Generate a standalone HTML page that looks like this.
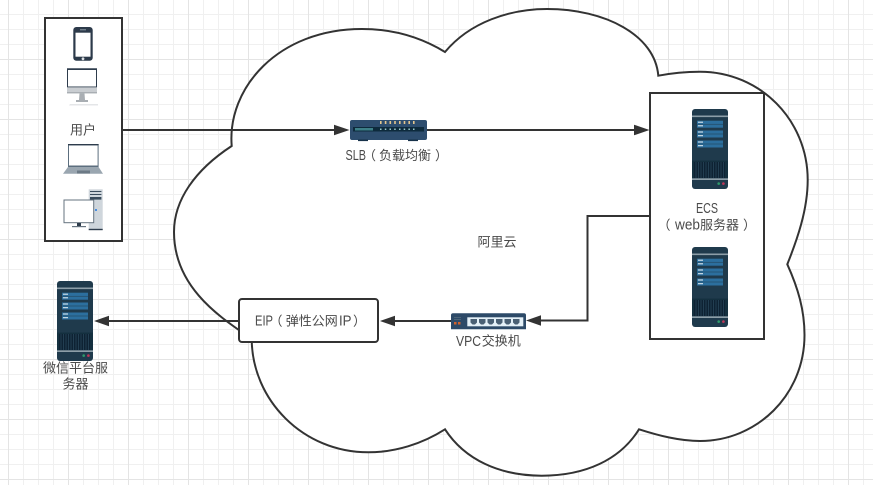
<!DOCTYPE html>
<html><head><meta charset="utf-8">
<style>
html,body{margin:0;padding:0;background:#fff;width:873px;height:485px;overflow:hidden}
svg{display:block}
text{font-family:"Liberation Sans","Noto Sans CJK SC",sans-serif;font-size:13px;fill:#4a4a4a}
text.m{text-anchor:middle}
text.l{font-size:14.5px}
</style></head><body>
<svg width="873" height="485" viewBox="0 0 873 485" xmlns="http://www.w3.org/2000/svg">
<defs>
<pattern id="g" width="60" height="60" patternUnits="userSpaceOnUse" x="8" y="-1">
<path d="M15.5 0V60M30.5 0V60M45.5 0V60M0 15.5H60M0 30.5H60M0 45.5H60" stroke="#f0f0f0" stroke-width="1" fill="none"/>
<path d="M.5 0V60M0 .5H60" stroke="#e4e4e4" stroke-width="1" fill="none"/>
</pattern>
<symbol id="srv" width="36" height="80" viewBox="0 0 36 80">
<rect width="36" height="80" rx="3" fill="#1f3a4c"/>
<rect y="6.5" width="36" height="1.6" fill="#8d9ea8"/>
<rect x="5" y="11.7" width="26" height="7" fill="#2c6f9e"/>
<rect x="5" y="21.5" width="26" height="7" fill="#2c6f9e"/>
<rect x="5" y="31.5" width="26" height="7" fill="#2c6f9e"/>
<g fill="#e6eff4"><rect x="6" y="12.7" width="5" height="1"/><rect x="6" y="16.3" width="5" height="1"/><rect x="6" y="22.5" width="5" height="1"/><rect x="6" y="26.2" width="5" height="1"/><rect x="6" y="32.5" width="5" height="1"/><rect x="6" y="36.2" width="5" height="1"/></g>
<g stroke="#1f3a4c" stroke-width=".5"><path d="M5 15.2H31M5 25H31M5 35H31"/></g>
<rect y="51.5" width="36" height="18" fill="#14303f"/>
<rect x="2" y="53" width="31" height="16" fill="#0e2233"/>
<path d="M4 53V69M6.5 53V69M9 53V69M11.5 53V69M14 53V69M16.5 53V69M19 53V69M21.5 53V69M24 53V69M26.5 53V69M29 53V69M31.5 53V69" stroke="#2c4a5e" stroke-width=".7"/>
<rect y="69.3" width="36" height="1.7" fill="#8d9ea8"/>
<circle cx="26.7" cy="74.6" r="1.3" fill="#2e9a6b"/>
<circle cx="31.4" cy="74.6" r="1.3" fill="#c03558"/>
</symbol>
</defs>
<rect width="873" height="485" fill="url(#g)"/>

<!-- cloud -->
<path d="M231.7 146C227 88 278 29 362 29C395 29 422 38 445 52C470 22 510 9 547 9C605 9 655 35 658.3 75.7C672 73 686 71.7 700 71.7C760 71.7 807.7 120 807.7 180C807.7 210 797 240 787.3 264.3C798 288 804.5 310 804.5 335C804.5 395 757 441 700 441C680 441 660 436 639 429.3C620 460 585 475.7 541.7 475.7C500 475.7 465 460 445 429.3C422 444 395 452.3 368.3 452.3C303 452.3 252 400 251.7 339C225 320 174 290 174 232C174 200 195 170 231.7 146Z" fill="#fff" stroke="#333" stroke-width="2"/>

<!-- boxes -->
<rect x="45" y="18" width="77" height="223" fill="#fff" stroke="#333" stroke-width="2"/>
<rect x="650" y="93" width="114" height="246" fill="#fff" stroke="#333" stroke-width="2"/>

<!-- connectors -->
<g fill="none" stroke="#333" stroke-width="2">
<path d="M122 130H336"/>
<path d="M427 130H636"/>
<path d="M650 216H587.5V320.5H540"/>
<path d="M451 321H394"/>
<path d="M239 321H108"/>
</g>
<g fill="#333">
<path d="M349.5 130L334 124.7V135.3Z"/>
<path d="M649.5 130L634 124.7V135.3Z"/>
<path d="M526 320.5L541 315.2V325.8Z"/>
<path d="M380 321L395 315.7V326.3Z"/>
<path d="M94 321L109 315.7V326.3Z"/>
</g>
<rect x="239" y="299" width="139" height="43" rx="3" fill="#fff" stroke="#333" stroke-width="2"/>

<!-- servers -->
<use href="#srv" x="692" y="109" width="36" height="80"/>
<use href="#srv" x="692" y="247" width="36" height="80"/>
<use href="#srv" x="57" y="281" width="36" height="80"/>

<!-- SLB -->
<rect x="350" y="120" width="77" height="20" rx="2" fill="#2d4d6e"/>
<rect x="358" y="139.5" width="10" height="1.6" fill="#17324a"/>
<rect x="408" y="139.5" width="10" height="1.6" fill="#17324a"/>
<rect x="353" y="127" width="71" height="4.5" fill="#0d2a3c"/>
<rect x="355" y="128" width="18" height="2.5" fill="#3d8088"/>
<g fill="#e3c58e"><rect x="380" y="121" width="1.6" height="3"/><rect x="384.8" y="121" width="1.6" height="3"/><rect x="389.5" y="121" width="1.6" height="3"/><rect x="394.2" y="121" width="1.6" height="3"/><rect x="399" y="121" width="1.6" height="3"/><rect x="403.7" y="121" width="1.6" height="3"/><rect x="408.4" y="121" width="1.6" height="3"/><rect x="413" y="121" width="1.6" height="3"/></g>
<g fill="#9cc"><rect x="380" y="128.5" width="1.5" height="1.5"/><rect x="384.8" y="128.5" width="1.5" height="1.5"/><rect x="389.5" y="128.5" width="1.5" height="1.5"/><rect x="394.2" y="128.5" width="1.5" height="1.5"/><rect x="399" y="128.5" width="1.5" height="1.5"/><rect x="403.7" y="128.5" width="1.5" height="1.5"/><rect x="408.4" y="128.5" width="1.5" height="1.5"/><rect x="413" y="128.5" width="1.5" height="1.5"/></g>

<!-- VPC switch -->
<path d="M453 313.3H524Q526 313.3 526 315.3V329.3H451V315.3Q451 313.3 453 313.3Z" fill="#2d4a68"/>
<rect x="467.3" y="317.3" width="56" height="9" fill="#e4f0f7"/>
<g fill="#4a6074"><path d="M470.5 319H477V322.5L475 324.5H472.5L470.5 322.5Z"/><path d="M479 319H485.5V322.5L483.5 324.5H481L479 322.5Z"/><path d="M487.5 319H494V322.5L492 324.5H489.5L487.5 322.5Z"/><path d="M496 319H502.5V322.5L500.5 324.5H498L496 322.5Z"/><path d="M504.5 319H511V322.5L509 324.5H506.5L504.5 322.5Z"/><path d="M513 319H519.5V322.5L517.5 324.5H515L513 322.5Z"/></g>
<rect x="454" y="317" width="7" height="1" fill="#4c6478"/><rect x="454" y="319" width="7" height="1" fill="#4c6478"/>
<rect x="454" y="322" width="2.5" height="2.5" fill="#d0622e"/><rect x="458" y="322" width="2.5" height="2.5" fill="#d0622e"/>

<!-- phone -->
<rect x="73.3" y="27" width="19.4" height="33.7" rx="3" fill="#2c3a4a"/>
<rect x="75.5" y="32.7" width="15" height="24" fill="#fff"/>
<circle cx="83" cy="58.8" r="1.4" fill="#dfe3e6"/>
<rect x="80" y="29.3" width="6" height="1" fill="#8b98a4"/>

<!-- monitor -->
<rect x="67" y="68.3" width="30" height="25" fill="#c9cdd1"/>
<rect x="67" y="68.3" width="30" height="19" fill="#2e3c4c"/>
<rect x="68" y="70" width="28" height="16.5" fill="#fff"/>
<rect x="67" y="92" width="30" height="1.4" fill="#a9aeb3"/>
<path d="M79.5 93.4H84.5L85 100H88V102H76V100H79Z" fill="#a9aeb3"/>
<path d="M70 104H98V105.5H69Z" fill="#e4e6e8"/>

<!-- laptop -->
<rect x="68" y="144" width="30.6" height="23" fill="#5c6e7e"/>
<rect x="68" y="144" width="30.6" height="1.2" fill="#2e3c4c"/>
<rect x="69" y="145.5" width="28.6" height="20" fill="#fff"/>
<path d="M68 167H98.6L103 173.8H63Z" fill="#9aa6b0"/>
<rect x="77" y="170.5" width="13" height="3" fill="#6c7a86"/>

<!-- PC -->
<rect x="88.7" y="189.3" width="14" height="40.7" fill="#cfd6dc"/>
<rect x="90" y="191" width="11.4" height="1" fill="#3a4c5c"/>
<rect x="90" y="194" width="11.4" height="1" fill="#3a4c5c"/>
<rect x="90" y="197" width="11.4" height="2.6" fill="#3a4c5c"/>
<rect x="95" y="209" width="2" height="2" fill="#4a8ee0"/>
<rect x="88.7" y="228.8" width="14" height="1.4" fill="#2e3c4c"/>
<rect x="64" y="200" width="29.7" height="22.7" fill="#fff" stroke="#66737f" stroke-width="1"/>
<rect x="77" y="223" width="4" height="3.2" fill="#2e3c4c"/>
<rect x="72" y="226" width="14" height="1.2" fill="#66737f"/>

<!-- labels -->
<text class="m" x="83" y="134.5">用户</text>

<text class="l" x="345.5" y="160" textLength="20.5" lengthAdjust="spacingAndGlyphs">SLB</text>
<text x="363" y="160">（</text>
<text x="379" y="160">负载均衡</text>
<text x="435" y="160">）</text>

<text class="m" x="497" y="246.5">阿里云</text>

<text class="l" x="696" y="213" textLength="22" lengthAdjust="spacingAndGlyphs">ECS</text>
<text x="657.5" y="229.5">（</text>
<text class="l" x="675" y="229.5" textLength="25" lengthAdjust="spacingAndGlyphs">web</text>
<text x="700" y="229.5">服务器</text>
<text x="743" y="229.5">）</text>

<text class="l" x="255" y="325.5" textLength="18" lengthAdjust="spacingAndGlyphs">EIP</text>
<text x="269.5" y="325.5">（</text>
<text x="285.7" y="325.5">弹性公网</text>
<text class="l" x="339" y="325.5" textLength="12.5" lengthAdjust="spacingAndGlyphs">IP</text>
<text x="353" y="325.5">）</text>

<text class="l" x="456" y="346" textLength="25" lengthAdjust="spacingAndGlyphs">VPC</text>
<text x="481.7" y="345.5">交换机</text>

<text class="m" x="75.5" y="372.5">微信平台服</text>
<text class="m" x="75.5" y="388.5">务器</text>
</svg>
</body></html>
